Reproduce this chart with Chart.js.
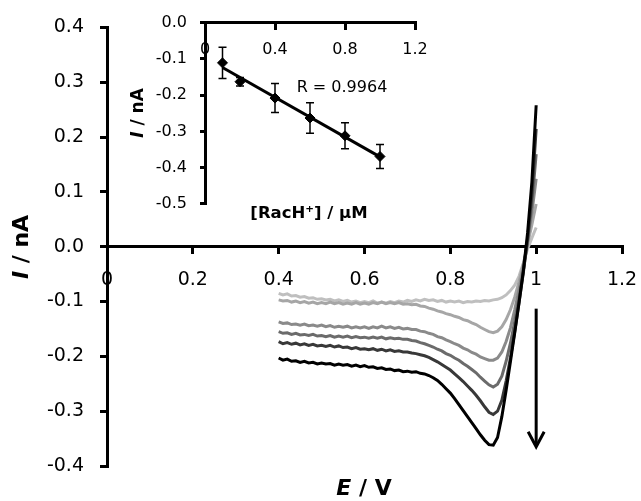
<!DOCTYPE html>
<html>
<head>
<meta charset="utf-8">
<style>
html,body{margin:0;padding:0;background:#fff;}
#wrap{position:relative;width:641px;height:501px;overflow:hidden;}
#wrap canvas{position:absolute;left:0;top:0;}
</style>
<script src="https://cdn.jsdelivr.net/npm/chart.js@4/dist/chart.umd.min.js"></script>
</head>
<body>
<div id="wrap">
<canvas id="mainChart" width="641" height="501"></canvas>
<canvas id="insetChart" width="641" height="501"></canvas>
</div>
<script>
// ---------- DATA ----------
const potentials = [0.40,0.41,0.42,0.43,0.44,0.45,0.46,0.47,0.48,0.49,
  0.50,0.51,0.52,0.53,0.54,0.55,0.56,0.57,0.58,0.59,
  0.60,0.61,0.62,0.63,0.64,0.65,0.66,0.67,0.68,0.69,
  0.70,0.71,0.72,0.73,0.74,0.75,0.76,0.77,0.78,0.79,
  0.80,0.81,0.82,0.83,0.84,0.85,0.86,0.87,0.88,0.89,
  0.90,0.91,0.92,0.93,0.94,0.95,0.96,0.97,0.98,0.99,1.00];

const currentC1 = [-0.085,-0.088,-0.086,-0.090,-0.089,-0.092,-0.091,-0.094,-0.093,-0.096,
  -0.095,-0.097,-0.096,-0.099,-0.097,-0.100,-0.098,-0.101,-0.099,-0.102,
  -0.100,-0.102,-0.099,-0.103,-0.101,-0.103,-0.100,-0.102,-0.099,-0.101,
  -0.098,-0.100,-0.097,-0.099,-0.096,-0.098,-0.097,-0.100,-0.098,-0.101,
  -0.099,-0.101,-0.099,-0.102,-0.100,-0.101,-0.099,-0.100,-0.098,-0.099,
  -0.097,-0.096,-0.093,-0.088,-0.080,-0.070,-0.054,-0.030,-0.004,0.016,0.035];

const currentC2 = [-0.097,-0.099,-0.098,-0.101,-0.099,-0.102,-0.100,-0.103,-0.101,-0.104,
  -0.102,-0.104,-0.101,-0.104,-0.102,-0.105,-0.103,-0.105,-0.102,-0.105,
  -0.103,-0.105,-0.102,-0.104,-0.101,-0.104,-0.102,-0.104,-0.102,-0.105,
  -0.104,-0.106,-0.105,-0.108,-0.109,-0.112,-0.114,-0.117,-0.119,-0.122,
  -0.124,-0.127,-0.129,-0.133,-0.135,-0.139,-0.142,-0.147,-0.151,-0.155,
  -0.157,-0.154,-0.146,-0.133,-0.115,-0.092,-0.064,-0.032,0.004,0.040,0.078];

const currentC3 = [-0.137,-0.140,-0.139,-0.142,-0.141,-0.143,-0.141,-0.144,-0.143,-0.145,
  -0.143,-0.146,-0.144,-0.147,-0.145,-0.147,-0.145,-0.148,-0.146,-0.148,
  -0.146,-0.149,-0.146,-0.148,-0.145,-0.148,-0.146,-0.149,-0.147,-0.150,
  -0.149,-0.151,-0.151,-0.154,-0.155,-0.158,-0.160,-0.164,-0.166,-0.170,
  -0.173,-0.177,-0.180,-0.185,-0.188,-0.193,-0.196,-0.201,-0.204,-0.207,
  -0.207,-0.203,-0.192,-0.173,-0.148,-0.115,-0.078,-0.037,0.010,0.062,0.124];

const currentC4 = [-0.155,-0.158,-0.157,-0.160,-0.158,-0.161,-0.160,-0.162,-0.160,-0.163,
  -0.162,-0.164,-0.162,-0.165,-0.163,-0.165,-0.163,-0.166,-0.164,-0.166,
  -0.165,-0.167,-0.165,-0.167,-0.165,-0.168,-0.166,-0.168,-0.167,-0.169,
  -0.169,-0.171,-0.172,-0.175,-0.177,-0.180,-0.183,-0.187,-0.190,-0.195,
  -0.198,-0.203,-0.207,-0.213,-0.218,-0.224,-0.230,-0.238,-0.245,-0.252,
  -0.256,-0.251,-0.236,-0.209,-0.176,-0.137,-0.093,-0.045,0.010,0.078,0.169];

const currentC5 = [-0.173,-0.177,-0.175,-0.178,-0.176,-0.179,-0.177,-0.180,-0.178,-0.181,
  -0.180,-0.182,-0.180,-0.183,-0.181,-0.184,-0.183,-0.186,-0.184,-0.187,
  -0.186,-0.188,-0.186,-0.189,-0.187,-0.190,-0.188,-0.191,-0.190,-0.192,
  -0.192,-0.194,-0.195,-0.197,-0.199,-0.202,-0.206,-0.210,-0.215,-0.220,
  -0.225,-0.232,-0.239,-0.246,-0.254,-0.262,-0.271,-0.281,-0.292,-0.302,
  -0.306,-0.300,-0.280,-0.245,-0.203,-0.155,-0.103,-0.048,0.015,0.095,0.215];

const currentC6 = [-0.203,-0.207,-0.205,-0.209,-0.208,-0.211,-0.209,-0.212,-0.211,-0.214,
  -0.212,-0.214,-0.213,-0.216,-0.214,-0.216,-0.215,-0.218,-0.216,-0.219,
  -0.217,-0.220,-0.219,-0.222,-0.221,-0.224,-0.223,-0.226,-0.225,-0.228,
  -0.227,-0.229,-0.228,-0.231,-0.232,-0.235,-0.239,-0.244,-0.251,-0.259,
  -0.267,-0.277,-0.288,-0.299,-0.310,-0.321,-0.332,-0.343,-0.353,-0.361,
  -0.362,-0.348,-0.310,-0.262,-0.210,-0.157,-0.102,-0.045,0.025,0.118,0.258];

const mainXTickValues = [0, 0.2, 0.4, 0.6, 0.8, 1.0, 1.2];
const mainXTickLabels = ['0', '0.2', '0.4', '0.6', '0.8', '1', '1.2'];
const mainYTickValues = [-0.4, -0.3, -0.2, -0.1, 0, 0.1, 0.2, 0.3, 0.4];
const mainYTickLabels = ['-0.4', '-0.3', '-0.2', '-0.1', '0.0', '0.1', '0.2', '0.3', '0.4'];

const insetConc = [0.1, 0.2, 0.4, 0.6, 0.8, 1.0];
const insetCurrent = [-0.111, -0.163, -0.208, -0.263, -0.312, -0.369];
const insetError = [0.043, 0.012, 0.040, 0.042, 0.036, 0.033];
const insetXTickValues = [0, 0.4, 0.8, 1.2];
const insetXTickLabels = ['0', '0.4', '0.8', '1.2'];
const insetYTickValues = [-0.5, -0.4, -0.3, -0.2, -0.1, 0];
const insetYTickLabels = ['-0.5', '-0.4', '-0.3', '-0.2', '-0.1', '0.0'];
const correlationText = 'R = 0.9964';

// ---------- STYLES ----------
const curveSeries = [currentC1, currentC2, currentC3, currentC4, currentC5, currentC6];
const curveColors = ['#bfbfbf', '#a6a6a6', '#8a8a8a', '#6b6b6b', '#383838', '#000000'];
const FONT = '"DejaVu Sans", "Liberation Sans", sans-serif';

function labelFor(values, labels, v) {
  for (let i = 0; i < values.length; i++) if (Math.abs(values[i] - v) < 1e-9) return labels[i];
  return '';
}

function drawMixed(ctx, parts, cx, cy, rotate) {
  ctx.save();
  ctx.translate(cx, cy);
  if (rotate) ctx.rotate(-Math.PI / 2);
  let total = 0;
  parts.forEach(p => { ctx.font = p.font; p.w = ctx.measureText(p.text).width; total += p.w; });
  let x = -total / 2;
  ctx.textBaseline = 'middle';
  ctx.textAlign = 'left';
  ctx.fillStyle = '#000';
  parts.forEach(p => { ctx.font = p.font; ctx.fillText(p.text, x, 0); x += p.w; });
  ctx.restore();
}

// ---------- MAIN CHART ----------
const mainDatasets = curveSeries.map((arr, i) => ({
  label: 'c' + (i + 1),
  data: potentials.map((e, k) => ({ x: e, y: arr[k] })),
  borderColor: curveColors[i],
  backgroundColor: curveColors[i],
  borderWidth: 3,
  pointRadius: 0,
  tension: 0,
  fill: false,
  order: curveSeries.length - i
}));

const mainDecor = {
  id: 'mainDecor',
  afterDraw(chart) {
    const { ctx, scales: { x, y } } = chart;
    const opts = chart.options.plugins.mainDecor;
    const ax = x.getPixelForValue(opts.arrow.x);
    const ay1 = y.getPixelForValue(opts.arrow.from);
    const ay2 = y.getPixelForValue(opts.arrow.to);
    ctx.save();
    ctx.strokeStyle = '#000';
    ctx.lineWidth = 3;
    ctx.beginPath();
    ctx.moveTo(ax, ay1);
    ctx.lineTo(ax, ay2 - 1);
    ctx.stroke();
    ctx.beginPath();
    ctx.moveTo(ax - 8, ay2 - 15);
    ctx.lineTo(ax, ay2);
    ctx.lineTo(ax + 8, ay2 - 15);
    ctx.stroke();
    ctx.restore();
    drawMixed(ctx, [
      { text: 'I', font: 'italic bold 22px ' + FONT },
      { text: ' / nA', font: 'bold 22px ' + FONT }
    ], 22, 247, true);
    drawMixed(ctx, [
      { text: 'E', font: 'italic bold 22px ' + FONT },
      { text: ' / V', font: 'bold 22px ' + FONT }
    ], 364, 489, false);
  }
};

new Chart(document.getElementById('mainChart'), {
  type: 'line',
  data: { datasets: mainDatasets },
  options: {
    responsive: false,
    animation: false,
    devicePixelRatio: 1,
    layout: { padding: { left: 0, top: 26, right: 19, bottom: 35 } },
    plugins: {
      legend: { display: false },
      tooltip: { enabled: false },
      mainDecor: { arrow: { x: 1.0, from: -0.113, to: -0.365 } }
    },
    scales: {
      x: {
        type: 'linear',
        min: 0, max: 1.2,
        position: { y: 0 },
        afterFit: s => { s.paddingLeft = 0; s.paddingRight = 0; },
        afterBuildTicks: s => { s.ticks = mainXTickValues.map(v => ({ value: v })); },
        ticks: {
          color: '#000',
          font: { family: FONT, size: 19 },
          padding: 16,
          maxRotation: 0,
          autoSkip: false,
          callback: v => labelFor(mainXTickValues, mainXTickLabels, v)
        },
        grid: { display: true, drawOnChartArea: false, drawTicks: true, tickLength: 6, color: '#000', lineWidth: 3 },
        border: { display: true, color: '#000', width: 3 }
      },
      y: {
        type: 'linear',
        min: -0.4, max: 0.4,
        position: 'left',
        afterFit: s => { s.width = 107; },
        afterBuildTicks: s => { s.ticks = mainYTickValues.map(v => ({ value: v })); },
        ticks: {
          color: '#000',
          font: { family: FONT, size: 19 },
          padding: 16,
          autoSkip: false,
          callback: v => labelFor(mainYTickValues, mainYTickLabels, v)
        },
        grid: { display: true, drawOnChartArea: false, drawTicks: true, tickLength: 7, color: '#000', lineWidth: 3 },
        border: { display: true, color: '#000', width: 3 }
      }
    }
  },
  plugins: [mainDecor]
});

// ---------- INSET CHART ----------
const n = insetConc.length;
const mx = insetConc.reduce((a, b) => a + b, 0) / n;
const my = insetCurrent.reduce((a, b) => a + b, 0) / n;
let sxy = 0, sxx = 0;
for (let i = 0; i < n; i++) { sxy += (insetConc[i] - mx) * (insetCurrent[i] - my); sxx += (insetConc[i] - mx) ** 2; }
const slope = sxy / sxx;
const intercept = my - slope * mx;
const fitLine = [insetConc[0], insetConc[n - 1]].map(c => ({ x: c, y: intercept + slope * c }));

const insetDecor = {
  id: 'insetDecor',
  beforeDatasetsDraw(chart) {
    const { ctx, scales: { x, y } } = chart;
    ctx.save();
    ctx.strokeStyle = '#000';
    ctx.lineWidth = 1.5;
    insetConc.forEach((c, i) => {
      const px = x.getPixelForValue(c);
      const top = y.getPixelForValue(insetCurrent[i] + insetError[i]);
      const bot = y.getPixelForValue(insetCurrent[i] - insetError[i]);
      ctx.beginPath();
      ctx.moveTo(px, top); ctx.lineTo(px, bot);
      ctx.moveTo(px - 4, top); ctx.lineTo(px + 4, top);
      ctx.moveTo(px - 4, bot); ctx.lineTo(px + 4, bot);
      ctx.stroke();
    });
    ctx.restore();
  },
  afterDraw(chart) {
    const { ctx } = chart;
    drawMixed(ctx, [
      { text: 'I', font: 'italic bold 17px ' + FONT },
      { text: ' / nA', font: 'bold 17px ' + FONT }
    ], 139, 113, true);
    drawMixed(ctx, [
      { text: '[RacH\u207A] / \u00B5M', font: 'bold 16.5px ' + FONT }
    ], 309, 214, false);
    drawMixed(ctx, [
      { text: correlationText, font: '16px ' + FONT }
    ], 342, 88, false);
  }
};

new Chart(document.getElementById('insetChart'), {
  type: 'scatter',
  data: {
    datasets: [
      {
        label: 'points',
        data: insetConc.map((c, i) => ({ x: c, y: insetCurrent[i] })),
        pointStyle: 'rectRot',
        pointRadius: 5,
        backgroundColor: '#000',
        borderColor: '#000',
        borderWidth: 1,
        showLine: false,
        order: 0
      },
      {
        label: 'fit',
        type: 'line',
        data: fitLine,
        borderColor: '#000',
        borderWidth: 3,
        pointRadius: 0,
        fill: false,
        order: 1
      }
    ]
  },
  options: {
    responsive: false,
    animation: false,
    devicePixelRatio: 1,
    layout: { padding: { left: 0, top: 20, right: 226, bottom: 297 } },
    plugins: { legend: { display: false }, tooltip: { enabled: false } },
    scales: {
      x: {
        type: 'linear',
        min: 0, max: 1.2,
        position: { y: 0 },
        afterFit: s => { s.paddingLeft = 0; s.paddingRight = 0; },
        afterBuildTicks: s => { s.ticks = insetXTickValues.map(v => ({ value: v })); },
        ticks: {
          color: '#000',
          font: { family: FONT, size: 16 },
          padding: 12,
          maxRotation: 0,
          autoSkip: false,
          callback: v => labelFor(insetXTickValues, insetXTickLabels, v)
        },
        grid: { display: true, drawOnChartArea: false, drawTicks: true, tickLength: 6, color: '#000', lineWidth: 3 },
        border: { display: true, color: '#000', width: 3 }
      },
      y: {
        type: 'linear',
        min: -0.5, max: 0,
        position: 'left',
        afterFit: s => { s.width = 205; },
        afterBuildTicks: s => { s.ticks = insetYTickValues.map(v => ({ value: v })); },
        ticks: {
          color: '#000',
          font: { family: FONT, size: 16 },
          padding: 13,
          autoSkip: false,
          callback: v => labelFor(insetYTickValues, insetYTickLabels, v)
        },
        grid: { display: true, drawOnChartArea: false, drawTicks: true, tickLength: 5, color: '#000', lineWidth: 3 },
        border: { display: true, color: '#000', width: 3 }
      }
    }
  },
  plugins: [insetDecor]
});
</script>
</body>
</html>
